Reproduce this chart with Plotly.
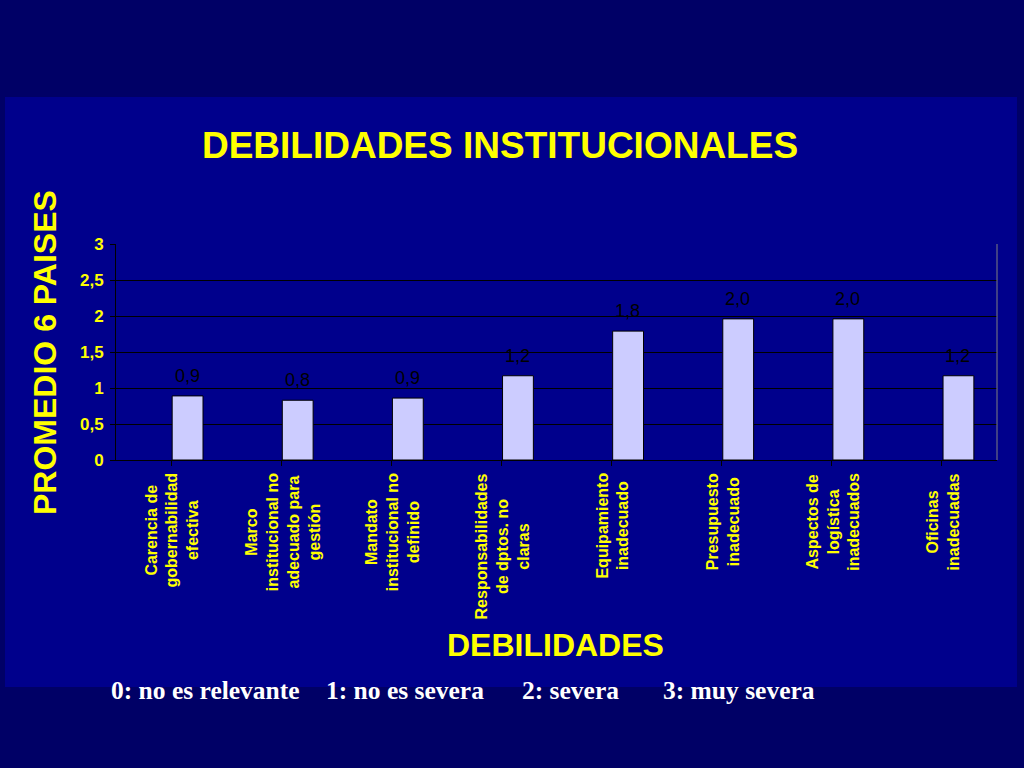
import plotly.graph_objects as go

# Daten aus dem Diagramm
debilidades = [
    "Carencia de<br>gobernabilidad<br>efectiva",
    "Marco<br>institucional no<br>adecuado para<br>gestión",
    "Mandato<br>institucional no<br>definido",
    "Responsabilidades<br>de dptos. no<br>claras",
    "Equipamiento<br>inadecuado",
    "Presupuesto<br>inadecuado",
    "Aspectos de<br>logística<br>inadecuados",
    "Oficinas<br>inadecuadas",
]
promedio = [0.89, 0.83, 0.86, 1.17, 1.79, 1.96, 1.96, 1.17]
etiquetas = ["0,9", "0,8", "0,9", "1,2", "1,8", "2,0", "2,0", "1,2"]
y_ticks = [0, 0.5, 1, 1.5, 2, 2.5, 3]
leyenda = ["0: no es relevante", "1: no es severa", "2: severa", "3: muy severa"]
leyenda_x = [-0.0075, 0.2365, 0.4584, 0.619]

AMARILLO = "#FFFF00"
SANS = "Liberation Sans, Arial, sans-serif"
SERIF = "Liberation Serif, Times New Roman, serif"

fig = go.Figure()

# Balken leicht rechts von der Kategoriemitte (wie im Original)
fig.add_trace(go.Bar(
    x=list(range(len(debilidades))),
    y=promedio,
    width=0.28,
    offset=0.01,
    marker=dict(color="#CCCCFF", line=dict(color="black", width=1)),
    hoverinfo="skip",
))

# Hintergrund-Panel (etwas helleres Blau)
fig.add_shape(type="rect", xref="paper", yref="paper",
              x0=-0.126, x1=1.0227, y0=-1.051, y1=1.6806,
              fillcolor="#00008C", line=dict(width=0), layer="below")
# rechter Rand der Zeichenfläche
fig.add_shape(type="line", xref="paper", yref="paper",
              x0=1, x1=1, y0=0, y1=1, line=dict(color="#808080", width=1))

# Werte über den Balken
for i, (v, t) in enumerate(zip(promedio, etiquetas)):
    fig.add_annotation(x=i, y=v, text=t, showarrow=False,
                       xanchor="center", yanchor="bottom", xshift=16, yshift=8,
                       font=dict(family=SANS, size=18, color="black"))

# Kategorien (gedreht, zentriert)
for i, d in enumerate(debilidades):
    fig.add_annotation(x=i, y=0, yref="paper", text=d, showarrow=False,
                       textangle=-90, align="center", xanchor="center",
                       yanchor="top", yshift=-11, xshift=1,
                       font=dict(family=SANS, size=16, color=AMARILLO, weight="bold"))

# Achsentitel
fig.add_annotation(x=-0.0806, y=0.5, xref="paper", yref="paper",
                   text="PROMEDIO 6 PAISES", showarrow=False, textangle=-90,
                   xanchor="center", yanchor="middle",
                   font=dict(family=SANS, size=32, color=AMARILLO, weight="bold"))
fig.add_annotation(x=0.4994, y=-0.8565, xref="paper", yref="paper",
                   text="DEBILIDADES", showarrow=False,
                   xanchor="center", yanchor="middle",
                   font=dict(family=SANS, size=32, color=AMARILLO, weight="bold"))

# Legende unten
for t, lx in zip(leyenda, leyenda_x):
    fig.add_annotation(x=lx, y=-1.065, xref="paper", yref="paper", text=t,
                       showarrow=False, xanchor="left", yanchor="middle",
                       font=dict(family=SERIF, size=25.5, color="white", weight="bold"))

fig.update_layout(
    width=1024, height=768,
    margin=dict(l=116, r=27, t=244, b=308),
    paper_bgcolor="#000066",
    plot_bgcolor="#FFFF99",
    separators=",.",
    showlegend=False,
    title=dict(text="DEBILIDADES INSTITUCIONALES", x=500 / 1024, y=1 - 145 / 768,
               xanchor="center", yanchor="middle",
               font=dict(family=SANS, size=37, color=AMARILLO, weight="bold")),
)

fig.update_xaxes(
    range=[-0.5, len(debilidades) - 0.5],
    tickvals=list(range(len(debilidades))),
    showticklabels=False,
    tickson="boundaries", ticks="outside", ticklen=5, tickcolor="black",
    showline=True, linecolor="black", linewidth=1,
    showgrid=False, zeroline=False,
)
fig.update_yaxes(
    range=[0, 3],
    tickvals=y_ticks,
    ticks="outside", ticklen=5, tickcolor="black", ticklabelstandoff=3,
    tickfont=dict(family=SANS, size=17, color=AMARILLO, weight="bold"),
    showline=True, linecolor="black", linewidth=1,
    showgrid=True, gridcolor="black", gridwidth=1,
    zeroline=False,
)

# Seitenrand des Browsers entfernen, damit die Folie das Fenster füllt
fig.write_html("out.html", config={"displayModeBar": False},
               post_script="document.body.style.margin='0';")
